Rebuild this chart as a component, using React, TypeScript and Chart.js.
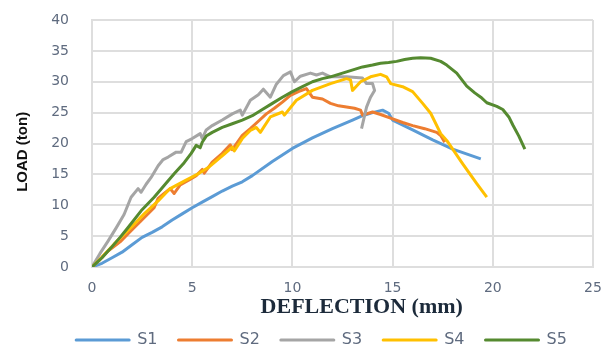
import React, { useEffect, useRef } from 'react';
import { Chart, registerables } from 'chart.js';

Chart.register(...registerables);

const SERIES_NAMES = ['S1', 'S2', 'S3', 'S4', 'S5'];
const COLORS = ['#5B9BD5', '#ED7D31', '#A5A5A5', '#FFC000', '#558A30'];

const X_MIN = 0;
const X_MAX = 25;
const X_STEP = 5;
const Y_MIN = 0;
const Y_MAX = 40;
const Y_STEP = 5;

const X_TITLE = 'DEFLECTION (mm)';
const Y_TITLE = 'LOAD (ton)';

const S1_X = [0, 0.5, 1, 1.5, 2, 2.5, 3, 3.5, 4, 4.5, 5, 5.5, 6, 6.5, 7, 7.5, 8, 9, 10, 11, 12, 13, 13.5, 14, 14.5, 14.8, 15, 16, 17, 18, 19.4];
const S1_Y = [0, 0.6, 1.5, 2.4, 3.6, 4.8, 5.6, 6.5, 7.6, 8.6, 9.6, 10.5, 11.4, 12.3, 13.1, 13.8, 14.8, 17.1, 19.2, 20.9, 22.4, 23.8, 24.5, 25, 25.4, 24.9, 23.8, 22.2, 20.6, 19.1, 17.5];

const S2_X = [0, 0.4, 0.8, 1.45, 1.9, 2.3, 2.7, 3.1, 3.3, 3.6, 3.9, 4.1, 4.4, 4.8, 5.2, 5.5, 5.6, 6.0, 6.5, 6.9, 7.0, 7.5, 7.9, 8.3, 8.7, 9.1, 9.5, 9.9, 10.3, 10.7, 11, 11.5, 11.9, 12.3, 12.7, 13.1, 13.4, 13.5, 14.0, 14.4, 14.9, 15.5, 16, 16.6, 17.2, 17.4, 17.6];
const S2_Y = [0, 1.2, 2.6, 4.2, 5.7, 7, 8.3, 9.6, 11.1, 11.9, 12.7, 11.9, 13.3, 14, 14.8, 15.8, 15.2, 17.0, 18.4, 19.8, 19.0, 21.3, 22.4, 23.6, 24.8, 25.7, 26.7, 27.8, 28.4, 28.9, 27.5, 27.2, 26.5, 26.1, 25.9, 25.7, 25.4, 24.6, 25.1, 24.7, 24.1, 23.4, 22.9, 22.4, 21.8, 21.3, 20.2];

const S3_X = [0, 0.4, 0.8, 1.2, 1.6, 1.95, 2.3, 2.45, 2.7, 2.95, 3.3, 3.55, 3.8, 4.2, 4.45, 4.7, 5.0, 5.4, 5.5, 5.7, 6.0, 6.5, 7.0, 7.4, 7.5, 7.9, 8.3, 8.55, 8.9, 9.2, 9.55, 9.9, 10.1, 10.4, 10.9, 11.2, 11.5, 11.9, 12.7, 13.5, 13.7, 14.0, 14.1, 13.9, 13.7, 13.45];
const S3_Y = [0, 2.2, 4.2, 6.3, 8.5, 11.3, 12.7, 12.1, 13.4, 14.5, 16.4, 17.4, 17.8, 18.6, 18.6, 20.3, 20.8, 21.6, 20.8, 22.2, 22.9, 23.8, 24.8, 25.4, 24.6, 27, 27.9, 28.8, 27.5, 29.6, 31.0, 31.6, 30.0, 30.9, 31.4, 31.1, 31.4, 30.8, 30.8, 30.6, 29.7, 29.7, 28.6, 27.5, 25.9, 22.4];

const S4_X = [0, 0.5, 1.1, 1.5, 1.95, 2.6, 3.3, 3.9, 4.6, 5.3, 5.8, 6.2, 6.6, 7.0, 7.1, 7.5, 7.9, 8.2, 8.4, 8.9, 9.5, 9.6, 10.2, 11, 11.9, 12.7, 12.9, 13.0, 13.4, 13.9, 14.4, 14.7, 14.9, 15.5, 16, 16.5, 16.9, 17.4, 17.7, 18.5, 19.2, 19.7];
const S4_Y = [0, 1.6, 3.7, 5.0, 6.4, 8.6, 10.7, 12.7, 13.9, 15.1, 16.1, 17.2, 18.3, 19.4, 18.8, 20.8, 22.1, 22.6, 21.8, 24.3, 25.1, 24.6, 27, 28.6, 29.7, 30.5, 30.3, 28.6, 30, 30.8, 31.2, 30.8, 29.7, 29.2, 28.4, 26.5, 24.9, 21.6, 20.5, 16.7, 13.5, 11.3];

const S5_X = [0, 0.5, 0.95, 1.4, 1.8, 2.45, 3.1, 3.6, 4.1, 4.6, 4.95, 5.2, 5.4, 5.5, 5.7, 6.0, 6.5, 7.0, 7.5, 8.0, 8.5, 9.0, 9.5, 10, 10.5, 11, 11.5, 11.9, 12.3, 12.7, 13.1, 13.5, 14.0, 14.4, 14.8, 15.2, 15.6, 16, 16.4, 16.9, 17.4, 17.7, 18.2, 18.7, 19.1, 19.4, 19.7, 20.2, 20.5, 20.8, 21.0, 21.3, 21.6];
const S5_Y = [0, 1.5, 3.1, 4.8, 6.4, 9.1, 11.3, 13.2, 15.1, 16.9, 18.4, 19.7, 19.3, 20.2, 21.2, 21.8, 22.6, 23.2, 23.8, 24.5, 25.5, 26.5, 27.5, 28.4, 29.2, 30, 30.5, 30.8, 31.2, 31.6, 32.0, 32.4, 32.7, 33, 33.1, 33.3, 33.6, 33.8, 33.9, 33.8, 33.3, 32.7, 31.4, 29.3, 28.2, 27.5, 26.6, 26.0, 25.5, 24.3, 23.0, 21.2, 19.1];

const SERIES_X = [S1_X, S2_X, S3_X, S4_X, S5_X];
const SERIES_Y = [S1_Y, S2_Y, S3_Y, S4_Y, S5_Y];

const TICK_COLOR = '#5f6b7f';
const GRID_COLOR = '#dedede';

function toPoints(xs: number[], ys: number[]) {
  return xs.map((x, i) => ({ x, y: ys[i] }));
}

export default function App() {
  const canvasRef = useRef<HTMLCanvasElement | null>(null);

  useEffect(() => {
    if (!canvasRef.current) return;
    const LEFT_PAD = 50;
    const chart = new Chart(canvasRef.current, {
      type: 'scatter',
      data: {
        datasets: SERIES_NAMES.map((name, i) => ({
          label: name,
          data: toPoints(SERIES_X[i], SERIES_Y[i]),
          showLine: true,
          borderColor: COLORS[i],
          backgroundColor: COLORS[i],
          borderWidth: 3,
          pointRadius: 0,
          pointHoverRadius: 0,
          tension: 0,
          borderJoinStyle: 'round',
          order: SERIES_NAMES.length - i,
        })),
      },
      options: {
        animation: false,
        responsive: true,
        maintainAspectRatio: false,
        layout: { padding: { left: LEFT_PAD, right: 14, top: 20, bottom: 0 } },
        plugins: {
          tooltip: { enabled: false },
          legend: {
            position: 'bottom',
            labels: {
              boxWidth: 53,
              boxHeight: 0,
              padding: 21,
              color: TICK_COLOR,
              font: { family: 'DejaVu Sans', size: 16 },
              sort: (a: any, b: any) => a.datasetIndex - b.datasetIndex,
            },
          },
        },
        scales: {
          x: {
            type: 'linear',
            min: X_MIN,
            max: X_MAX,
            ticks: {
              stepSize: X_STEP,
              color: TICK_COLOR,
              padding: 1,
              font: { family: 'DejaVu Sans', size: 14 },
            },
            grid: {
              color: GRID_COLOR,
              lineWidth: 2,
              drawTicks: true,
              tickLength: 12,
              tickColor: 'rgba(0,0,0,0)',
            },
            border: { color: GRID_COLOR, width: 2 },
            title: {
              display: true,
              text: '       ' + X_TITLE,
              color: '#1c2a3a',
              font: { family: 'Liberation Serif', size: 22, weight: 'bold' },
              padding: { top: 0, bottom: -10 },
            },
            afterFit: (scale: any) => {
              scale.height = 44;
            },
          },
          y: {
            type: 'linear',
            min: Y_MIN,
            max: Y_MAX,
            ticks: {
              stepSize: Y_STEP,
              color: TICK_COLOR,
              padding: 1,
              font: { family: 'DejaVu Sans', size: 14 },
            },
            grid: {
              color: GRID_COLOR,
              lineWidth: 2,
              drawTicks: true,
              tickLength: 22,
              tickColor: 'rgba(0,0,0,0)',
            },
            border: { color: GRID_COLOR, width: 2 },
            title: {
              display: true,
              text: Y_TITLE + '    ',
              color: '#111111',
              font: { family: 'Liberation Sans', size: 15, weight: 'bold' },
              padding: { top: 23 - LEFT_PAD - 9, bottom: 0 },
            },
            afterFit: (scale: any) => {
              scale.width = 92 - LEFT_PAD;
            },
          },
        },
      },
    } as any);
    return () => chart.destroy();
  }, []);

  return (
    <div style={{ position: 'fixed', left: 0, top: 0, width: 607, height: 347, overflow: 'hidden', background: '#ffffff' }}>
      <div style={{ position: 'relative', width: 607, height: 358 }}>
        <canvas ref={canvasRef} />
      </div>
    </div>
  );
}
